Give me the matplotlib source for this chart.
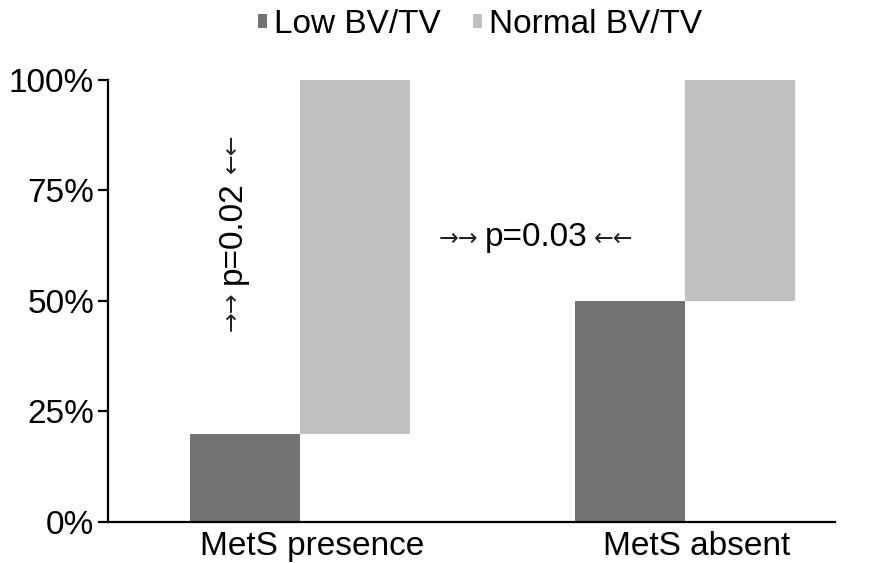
import matplotlib
matplotlib.use("Agg")
import matplotlib.pyplot as plt
import numpy as np

plt.rcParams['font.family'] = ['Liberation Sans', 'DejaVu Sans']

categories = ["MetS presence", "MetS absent"]
low_pct = [20, 50]
normal_pct = [80, 50]
series_names = ["Low BV/TV", "Normal BV/TV"]
yticks = [0, 25, 50, 75, 100]
ytick_labels = ["0%", "25%", "50%", "75%", "100%"]
p_labels = ["p=0.02", "p=0.03"]

dark = "#737373"
light = "#c0c0c0"
w = 0.286

fig = plt.figure(figsize=(8.71, 5.63), dpi=100)
ax = fig.add_axes([0.124, 0.0728, 0.8347, 0.7852])

x = np.arange(len(categories))
ax.bar(x - w / 2, low_pct, width=w, color=dark, label=series_names[0])
ax.bar(x + w / 2, normal_pct, width=w, bottom=low_pct, color=light, label=series_names[1])

ax.set_xlim(-0.5, 1.39)
ax.set_ylim(0, 100)
ax.set_yticks(yticks)
ax.set_yticklabels(ytick_labels, fontsize=24)
ax.set_xticks(x + 0.03)
ax.set_xticklabels(categories, fontsize=24)
ax.tick_params(axis='x', length=0, pad=6.5)
ax.tick_params(axis='y', length=7, width=1.6, pad=3)
for s in ['top', 'right']:
    ax.spines[s].set_visible(False)
for s in ['left', 'bottom']:
    ax.spines[s].set_linewidth(1.6)

arrow_kw = dict(fontsize=17, ha='center', va='center', textcoords='offset pixels',
                family='DejaVu Sans', color='#222222')

# vertical p-value annotation
v_xy = (-0.177, 65.5)
ax.text(*v_xy, p_labels[0], rotation=90, ha='center', va='center', fontsize=24)
ax.annotate("\u2192\u2192", xy=v_xy, xytext=(-1, -79), rotation=90, **arrow_kw)
ax.annotate("\u2190\u2190", xy=v_xy, xytext=(-1, 79), rotation=90, **arrow_kw)

# horizontal p-value annotation
h_xy = (0.613, 64.3)
ax.text(*h_xy, p_labels[1], ha='center', va='center', fontsize=24)
ax.annotate("\u2192\u2192", xy=h_xy, xytext=(-78, -1), **arrow_kw)
ax.annotate("\u2190\u2190", xy=h_xy, xytext=(77, -1), **arrow_kw)

leg = fig.legend(loc='upper center', bbox_to_anchor=(0.551, 1.037), ncol=2, frameon=False,
                 fontsize=24, handlelength=0.28, handleheight=0.28, handletextpad=0.2,
                 columnspacing=0.95)

fig.savefig("out.png", dpi=100)
